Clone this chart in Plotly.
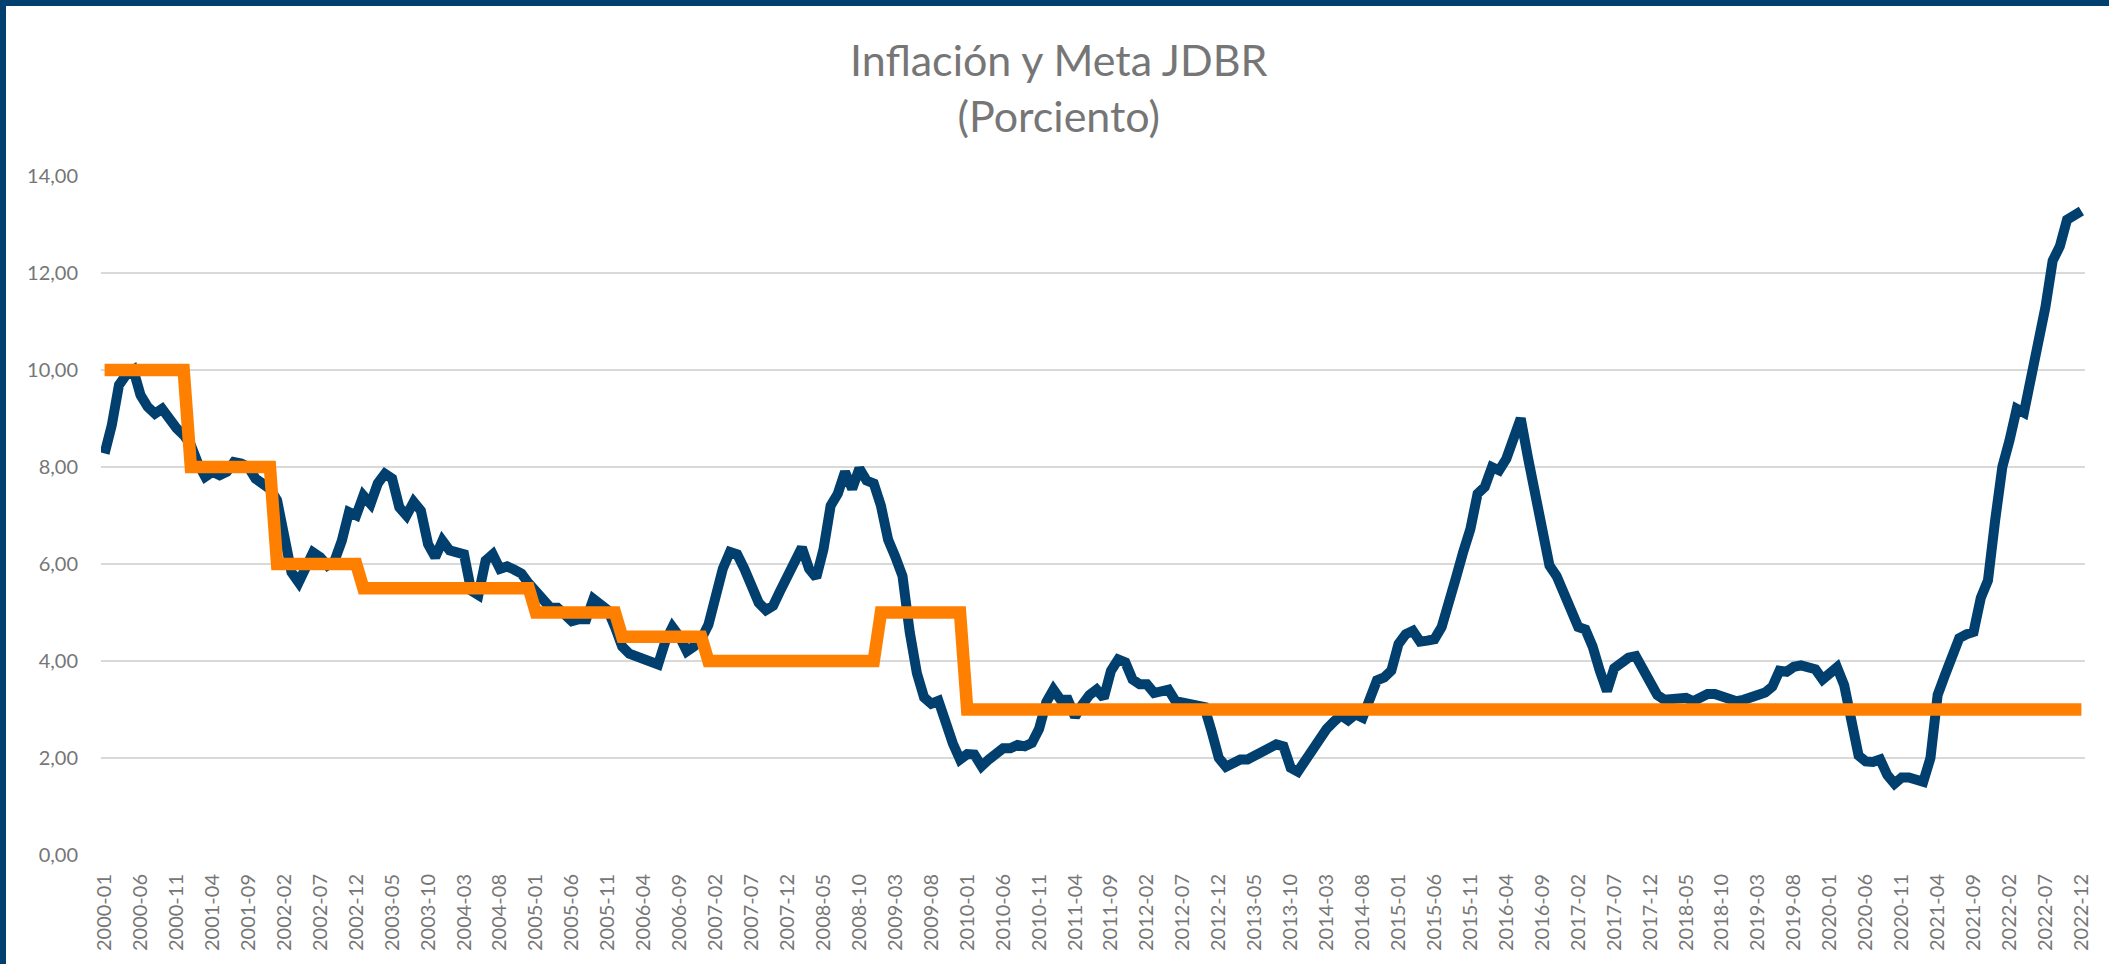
import plotly.graph_objects as go

# ---------------- data ----------------
years = list(range(2000, 2023))
meses = [f"{y}-{m:02d}" for y in years for m in range(1, 13)]

inflacion = [
    # 2000
    8.28, 8.86, 9.69, 9.9, 10.0, 9.48, 9.24, 9.1, 9.2, 8.97, 8.8, 8.66,
    # 2001
    8.45, 8.07, 7.8, 7.9, 7.83, 7.9, 8.1, 8.07, 8.0, 7.76, 7.62, 7.55,
    # 2002
    7.31, 6.62, 5.83, 5.62, 6.0, 6.24, 6.14, 5.97, 6.07, 6.48, 7.07, 7.0,
    # 2003
    7.41, 7.24, 7.66, 7.86, 7.76, 7.17, 7.0, 7.28, 7.1, 6.41, 6.14, 6.48,
    # 2004
    6.28, 6.26, 6.2, 5.45, 5.36, 6.07, 6.2, 5.9, 5.95, 5.88, 5.8, 5.6,
    # 2005
    5.45, 5.25, 5.1, 5.1, 4.95, 4.82, 4.86, 4.86, 5.28, 5.15, 5.05, 4.7,
    # 2006
    4.3, 4.15, 4.1, 4.07, 4.0, 3.93, 4.4, 4.7, 4.5, 4.2, 4.3, 4.45,
    # 2007
    4.75, 5.3, 5.9, 6.25, 6.2, 5.9, 5.6, 5.2, 5.05, 5.14, 5.45, 5.75,
    # 2008
    6.1, 6.34, 5.9, 5.72, 6.3, 7.2, 7.45, 7.9, 7.55, 7.97, 7.72, 7.66,
    # 2009
    7.2, 6.5, 6.15, 5.75, 4.6, 3.75, 3.25, 3.12, 3.18, 2.7, 2.3, 1.97,
    # 2010
    2.08, 2.07, 1.83, 1.97, 2.07, 2.2, 2.2, 2.27, 2.24, 2.31, 2.6, 3.15,
    # 2011
    3.41, 3.2, 3.2, 2.85, 3.1, 3.3, 3.41, 3.24, 3.8, 4.03, 3.97, 3.62,
    # 2012
    3.52, 3.52, 3.34, 3.4, 3.41, 3.17, 3.14, 3.12, 3.1, 3.05, 2.55, 2.0,
    # 2013
    1.82, 1.9, 1.97, 1.97, 2.05, 2.17, 2.25, 2.28, 2.24, 1.8, 1.72, 1.95,
    # 2014
    2.2, 2.4, 2.6, 2.75, 2.88, 2.78, 2.9, 2.83, 3.25, 3.6, 3.66, 3.8,
    # 2015
    4.35, 4.55, 4.62, 4.4, 4.42, 4.45, 4.7, 5.3, 5.72, 6.25, 6.72, 7.45,
    # 2016
    7.59, 8.0, 7.93, 8.17, 8.55, 9.0, 8.2, 7.4, 6.6, 5.97, 5.75, 5.4,
    # 2017
    5.15, 4.7, 4.65, 4.3, 3.8, 3.38, 3.85, 3.98, 4.07, 4.1, 3.8, 3.55,
    # 2018
    3.3, 3.2, 3.21, 3.22, 3.24, 3.17, 3.25, 3.32, 3.32, 3.27, 3.21, 3.17,
    # 2019
    3.2, 3.24, 3.3, 3.35, 3.47, 3.8, 3.78, 3.88, 3.91, 3.88, 3.83, 3.62,
    # 2020
    3.74, 3.87, 3.5, 2.65, 2.05, 1.93, 1.92, 1.97, 1.65, 1.47, 1.6, 1.6,
    # 2021
    1.55, 1.51, 2.0, 3.3, 3.7, 4.05, 4.47, 4.55, 4.6, 5.3, 5.66, 6.9,
    # 2022
    8.0, 8.55, 9.2, 9.12, 9.85, 10.45, 11.3, 12.25, 12.55, 13.1, 13.2, 13.28,
]
assert len(inflacion) == len(meses) == 276

# target (meta) as steps: start month and value
meta_inicio = ["2000-01", "2001-01", "2002-01", "2003-01", "2005-01",
               "2006-01", "2007-01", "2009-01", "2010-01"]
meta_valor = [10, 8, 6, 5.5, 5, 4.5, 4, 5, 3]

meta = []
for m in meses:
    val = None
    for s, v in zip(meta_inicio, meta_valor):
        if m >= s:
            val = v
    meta.append(val)

tick_labels = meses[::5]

# ---------------- figure ----------------
AZUL = "#003F6E"
NARANJA = "#FF8000"
GRIS = "#767676"

fig = go.Figure()
fig.add_trace(go.Scatter(
    x=meses, y=inflacion, mode="lines", name="Inflación",
    line=dict(color=AZUL, width=10), hoverinfo="x+y"))
fig.add_trace(go.Scatter(
    x=meses, y=meta, mode="lines", name="Meta JDBR",
    line=dict(color=NARANJA, width=12.5), hoverinfo="x+y"))

W, H = 2109, 964
L, R, T, B = 101, 24, 176, 109
pw, ph = W - L - R, H - T - B

def px_x(p):
    return (p - L) / pw

def px_y(p):
    return (H - B - p) / ph

fig.update_layout(
    width=W, height=H,
    margin=dict(l=L, r=R, t=T, b=B),
    paper_bgcolor="white", plot_bgcolor="white",
    showlegend=False,
    separators=",.",
    font=dict(family="Lato, 'Open Sans', sans-serif", color=GRIS),
    title=dict(
        text="Inflación y Meta JDBR<br>(Porciento)",
        x=0.502, xref="container", xanchor="center",
        y=1 - 76 / H, yref="container", yanchor="middle",
        font=dict(size=43, color=GRIS, family="Lato, 'Open Sans', sans-serif"),
    ),
    xaxis=dict(
        type="category",
        tickmode="array", tickvals=tick_labels, ticktext=tick_labels,
        tickangle=-90,
        tickfont=dict(size=20, color=GRIS),
        showgrid=False, zeroline=False, showline=False,
        ticks="outside", ticklen=10, tickcolor="rgba(0,0,0,0)",
        range=[-0.5, len(meses) - 0.5],
    ),
    yaxis=dict(
        range=[0, 14], tickmode="array", tickvals=[0, 2, 4, 6, 8, 10, 12, 14],
        tickformat=".2f",
        tickfont=dict(size=20, color=GRIS),
        showgrid=True, gridcolor="#D9D9D9", gridwidth=1.5,
        zeroline=False, showline=False,
        ticks="outside", ticklen=18, tickcolor="rgba(0,0,0,0)",
    ),
    shapes=[
        # frame: top and left borders
        dict(type="rect", xref="paper", yref="paper",
             x0=px_x(0), x1=px_x(W), y0=px_y(6), y1=px_y(0),
             fillcolor=AZUL, line=dict(width=0), layer="above"),
        dict(type="rect", xref="paper", yref="paper",
             x0=px_x(0), x1=px_x(6), y0=px_y(H), y1=px_y(0),
             fillcolor=AZUL, line=dict(width=0), layer="above"),
    ],
)

fig.write_html(
    "out.html",
    config={"displayModeBar": False},
    post_script="document.body.style.margin='0';document.body.style.overflow='hidden';",
)
